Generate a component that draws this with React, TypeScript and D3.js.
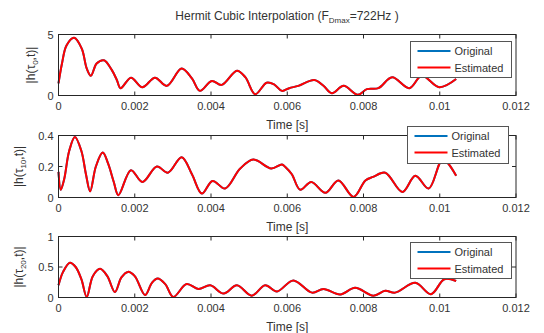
import React from 'react';
import * as d3 from 'd3';

const xTicks = [0, 0.002, 0.004, 0.006, 0.008, 0.01, 0.012];
const xTickLabels = ['0', '0.002', '0.004', '0.006', '0.008', '0.01', '0.012'];

const t0 = [0, 0.00009, 0.00021, 0.00041, 0.00061, 0.00074, 0.00085, 0.001, 0.00119, 0.0014, 0.00153, 0.00163, 0.0019, 0.0022, 0.00253, 0.00284, 0.00323, 0.0035, 0.00371, 0.00402, 0.00428, 0.00468, 0.0049, 0.00516, 0.00546, 0.00566, 0.00586, 0.00605, 0.00629, 0.00671, 0.00695, 0.00717, 0.00748, 0.00785, 0.00809, 0.00839, 0.00875, 0.0092, 0.00953, 0.00999, 0.01043];
const h0 = [1.0, 2.6, 4.1, 4.73, 3.84, 2.22, 1.62, 2.62, 2.89, 2.08, 1.27, 0.6, 1.46, 0.68, 1.46, 0.79, 2.22, 1.4, 0.38, 1.19, 0.87, 2.03, 1.5, 0.11, 1.05, 0.9, 0.38, 0.6, 0.79, 1.27, 0.8, 0.19, 0.79, 0.06, 0.52, 0.6, 1.49, 0.6, 1.62, 0.68, 1.35];

const t10 = [0, 0.00006, 0.00015, 0.00028, 0.00043, 0.0006, 0.00072, 0.00083, 0.00098, 0.00116, 0.0013, 0.00145, 0.00157, 0.0019, 0.0022, 0.00258, 0.00287, 0.00323, 0.0035, 0.00376, 0.00404, 0.00437, 0.00476, 0.00511, 0.00558, 0.00586, 0.00595, 0.00612, 0.00634, 0.00663, 0.007, 0.00734, 0.00774, 0.00805, 0.00825, 0.00857, 0.00902, 0.00936, 0.00971, 0.01008, 0.01043];
const h10 = [0.165, 0.05, 0.12, 0.3, 0.39, 0.3, 0.15, 0.04, 0.2, 0.29, 0.22, 0.1, 0.015, 0.176, 0.1, 0.2, 0.16, 0.26, 0.15, 0.026, 0.107, 0.058, 0.185, 0.245, 0.187, 0.213, 0.197, 0.15, 0.05, 0.1, 0.03, 0.11, 0.004, 0.11, 0.133, 0.16, 0.036, 0.14, 0.058, 0.245, 0.14];

const t20 = [0, 0.00012, 0.0003, 0.00045, 0.0006, 0.00074, 0.0009, 0.00109, 0.00128, 0.00148, 0.00165, 0.00182, 0.002, 0.00227, 0.00245, 0.0026, 0.0028, 0.00301, 0.00336, 0.00367, 0.00398, 0.00433, 0.00468, 0.00507, 0.00542, 0.00573, 0.00616, 0.00665, 0.00695, 0.00739, 0.00778, 0.00826, 0.00857, 0.00883, 0.00936, 0.00977, 0.01012, 0.01043];
const h20 = [0.2, 0.42, 0.57, 0.5, 0.3, 0.01, 0.35, 0.47, 0.35, 0.09, 0.33, 0.42, 0.35, 0.04, 0.24, 0.31, 0.22, 0.01, 0.22, 0.14, 0.2, 0.065, 0.2, 0.03, 0.2, 0.1, 0.28, 0.08, 0.14, 0.05, 0.16, 0.03, 0.11, 0.08, 0.24, 0.055, 0.3, 0.27];

const original0 = h0, estimated0 = h0;
const original10 = h10, estimated10 = h10;
const original20 = h20, estimated20 = h20;

const legendLabels = ['Original', 'Estimated'];
const seriesColors = ['#0072BD', '#FF0000'];

const FONT = '"Liberation Sans", Arial, Helvetica, sans-serif';
const TXT = '#333';

const LEFT = 58.5;
const RIGHT = 516;

const panels = [
  { t: t0, orig: original0, est: estimated0, yMax: 5, yTicks: [0, 5], yTickLabels: ['0', '5'], sub: '0', top: 34.5, bottom: 95.5, leg: { x: 410.5, y: 41.5, w: 101, h: 36 }, ylabX: 32 },
  { t: t10, orig: original10, est: estimated10, yMax: 0.4, yTicks: [0, 0.2, 0.4], yTickLabels: ['0', '0.2', '0.4'], sub: '10', top: 135.5, bottom: 197.5, leg: { x: 407.5, y: 126.5, w: 101, h: 37 }, ylabX: 20 },
  { t: t20, orig: original20, est: estimated20, yMax: 1, yTicks: [0, 0.5, 1], yTickLabels: ['0', '0.5', '1'], sub: '20', top: 236.5, bottom: 297.5, leg: { x: 410.5, y: 242.5, w: 101, h: 36 }, ylabX: 20 },
];

function Panel({ p }: { p: typeof panels[number] }) {
  const x = d3.scaleLinear().domain([0, 0.012]).range([LEFT, RIGHT]);
  const y = d3.scaleLinear().domain([0, p.yMax]).range([p.bottom, p.top]);
  const line = d3
    .line<number>()
    .x((_, i) => x(p.t[i]))
    .y((d) => y(d))
    .curve(d3.curveCatmullRom.alpha(0.5));
  const tl = 4;
  const cy = (p.top + p.bottom) / 2;
  return (
    <g>
      <rect x={LEFT} y={p.top} width={RIGHT - LEFT} height={p.bottom - p.top} fill="#fff" />
      <path d={line(p.orig) || ''} fill="none" stroke={seriesColors[0]} strokeWidth={2} />
      <path d={line(p.est) || ''} fill="none" stroke={seriesColors[1]} strokeWidth={2} />
      <rect x={LEFT} y={p.top} width={RIGHT - LEFT} height={p.bottom - p.top} fill="none" stroke="#262626" strokeWidth={1} />
      {xTicks.map((v, i) => (
        <g key={'xt' + i}>
          <line x1={x(v)} x2={x(v)} y1={p.bottom} y2={p.bottom - tl} stroke="#262626" />
          <line x1={x(v)} x2={x(v)} y1={p.top} y2={p.top + tl} stroke="#262626" />
          <text x={x(v)} y={p.bottom + 14} textAnchor="middle" fontSize={11} fill={TXT} fontFamily={FONT}>
            {xTickLabels[i]}
          </text>
        </g>
      ))}
      {p.yTicks.map((v, i) => (
        <g key={'yt' + i}>
          <line x1={LEFT} x2={LEFT + tl} y1={y(v)} y2={y(v)} stroke="#262626" />
          <line x1={RIGHT} x2={RIGHT - tl} y1={y(v)} y2={y(v)} stroke="#262626" />
          <text x={LEFT - 5} y={y(v) + 4} textAnchor="end" fontSize={11} fill={TXT} fontFamily={FONT}>
            {p.yTickLabels[i]}
          </text>
        </g>
      ))}
      <text x={(LEFT + RIGHT) / 2} y={p.bottom + 33} textAnchor="middle" fontSize={12} fill={TXT} fontFamily={FONT}>
        Time [s]
      </text>
      <text transform={`translate(${p.ylabX + 3},${cy}) rotate(-90)`} textAnchor="middle" fontSize={12} fill={TXT} fontFamily={FONT}>
        <tspan>|h(τ</tspan>
        <tspan fontSize={8} dy={3}>{p.sub}</tspan>
        <tspan dy={-3}>,t)|</tspan>
      </text>
      <g>
        <rect x={p.leg.x} y={p.leg.y} width={p.leg.w} height={p.leg.h} fill="#fff" stroke="#555" strokeWidth={1} />
        {legendLabels.map((lab, i) => {
          const ly = p.leg.y + 9.5 + i * 16.5;
          return (
            <g key={lab}>
              <line x1={p.leg.x + 7} x2={p.leg.x + 40} y1={ly} y2={ly} stroke={seriesColors[i]} strokeWidth={2} />
              <text x={p.leg.x + 44} y={ly + 4} fontSize={11} fill={TXT} fontFamily={FONT}>
                {lab}
              </text>
            </g>
          );
        })}
      </g>
    </g>
  );
}

export default function App() {
  return (
    <svg width={544} height={333} style={{ position: 'absolute', left: 0, top: 0, background: '#fff' }}>
      <rect x={0} y={0} width={544} height={333} fill="#fff" />
      <text x={287} y={20} textAnchor="middle" fontSize={12} fill={TXT} fontFamily={FONT}>
        <tspan>Hermit Cubic Interpolation (F</tspan>
        <tspan fontSize={8} dy={3}>Dmax</tspan>
        <tspan dy={-3}>=722Hz )</tspan>
      </text>
      {panels.map((p, i) => (
        <Panel key={i} p={p} />
      ))}
    </svg>
  );
}
